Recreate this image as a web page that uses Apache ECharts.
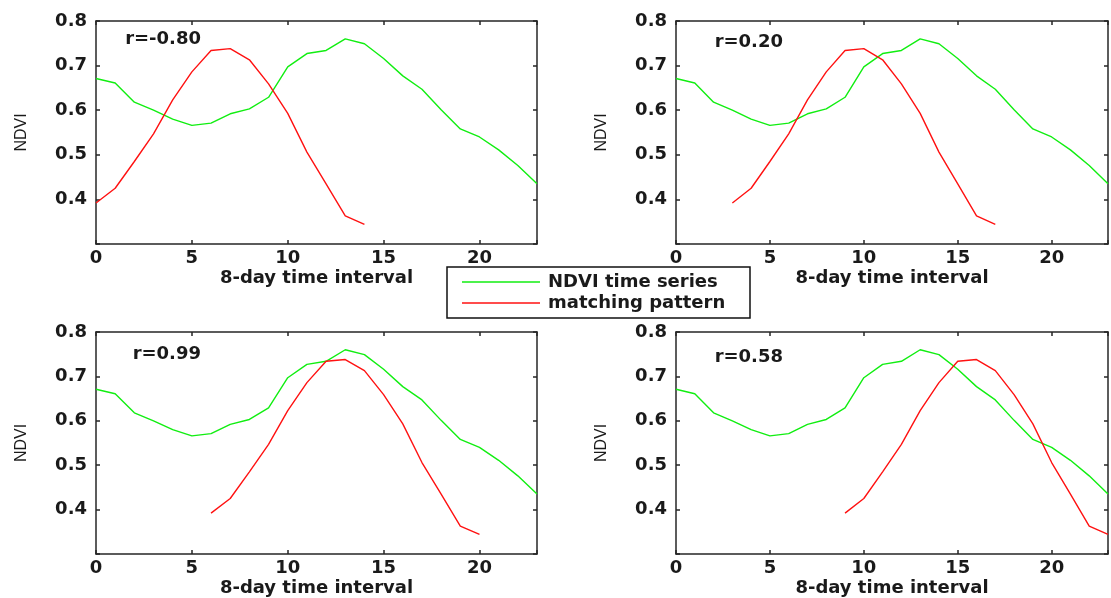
<!DOCTYPE html>
<html><head><meta charset="utf-8">
<script src="https://cdn.jsdelivr.net/npm/echarts@6/dist/echarts.min.js"></script>
<style>html,body{margin:0;padding:0;background:#fff}#c{width:1111px;height:598px}</style>
</head><body><div id="c"></div>
<script>
// NDVI time series (8-day intervals 0..23)
const ndvi = [0.671, 0.661, 0.618, 0.600, 0.580, 0.566, 0.571, 0.592, 0.603, 0.629, 0.697, 0.727,
              0.734, 0.760, 0.749, 0.716, 0.677, 0.647, 0.601, 0.558, 0.540, 0.511, 0.476, 0.435];
// matching pattern (15 steps)
const pattern = [0.392, 0.425, 0.485, 0.547, 0.623, 0.686, 0.734, 0.738, 0.713, 0.659, 0.593, 0.506, 0.435, 0.363, 0.344];
// shift of the pattern in each panel
const shifts = [0, 3, 6, 9];
const rLabels = ['r=-0.80', 'r=0.20', 'r=0.99', 'r=0.58'];
const seriesNames = ['NDVI time series', 'matching pattern'];
const xTickLabels = [0, 5, 10, 15, 20];
const yTickLabels = [0.4, 0.5, 0.6, 0.7, 0.8];

const grids = [
  {left: 96, top: 21, width: 441, height: 223},
  {left: 676, top: 21, width: 440, height: 223},
  {left: 96, top: 332, width: 441, height: 223},
  {left: 676, top: 332, width: 440, height: 223}
];
const rPos = [[201, 39], [783, 42], [201, 354], [783, 357]];

const txt = '#1a1a1a';
const lineC = '#262626';
const tickFont = {fontFamily: 'DejaVu Sans', fontWeight: 'bold', fontSize: 18, color: txt};
const GREEN = '#11ee11', RED = '#ff1111';

const xAxis = [], yAxis = [], series = [], graphic = [];
grids.forEach((g, i) => {
  const base = {
    type: 'value', gridIndex: i, min: 0, max: 23, interval: 5,
    axisLine: {show: true, onZero: false, lineStyle: {color: lineC, width: 1.5}},
    axisTick: {show: true, inside: true, length: 4, lineStyle: {color: lineC, width: 1.5}},
    splitLine: {show: false}
  };
  xAxis.push(Object.assign({}, base, {
    position: 'bottom',
    axisLabel: Object.assign({margin: 5, formatter: v => xTickLabels.includes(v) ? String(v) : ''}, tickFont),
    name: '8-day time interval', nameLocation: 'middle', nameGap: 25,
    nameTextStyle: Object.assign({}, tickFont)
  }));
  xAxis.push(Object.assign({}, base, {position: 'top', axisLabel: {show: false}}));
  const ybase = {
    type: 'value', gridIndex: i, min: 0.3, max: 0.8, interval: 0.1,
    axisLine: {show: true, onZero: false, lineStyle: {color: lineC, width: 1.5}},
    axisTick: {show: true, inside: true, length: 4, lineStyle: {color: lineC, width: 1.5}},
    splitLine: {show: false}
  };
  yAxis.push(Object.assign({}, ybase, {
    position: 'left',
    axisLabel: Object.assign({margin: 9, formatter: v => {
      const s = v.toFixed(1); return yTickLabels.map(t => t.toFixed(1)).includes(s) ? s : '';
    }}, tickFont),
    name: 'NDVI', nameLocation: 'middle', nameGap: 66,
    nameTextStyle: {fontFamily: 'Liberation Sans', fontSize: 16, color: txt}
  }));
  yAxis.push(Object.assign({}, ybase, {position: 'right', axisLabel: {show: false}}));

  series.push({
    name: seriesNames[0], type: 'line', xAxisIndex: 2 * i, yAxisIndex: 2 * i,
    data: ndvi.map((v, k) => [k, v]), symbol: 'none', color: GREEN,
    lineStyle: {color: GREEN, width: 1.4}, animation: false, z: 2
  });
  series.push({
    name: seriesNames[1], type: 'line', xAxisIndex: 2 * i, yAxisIndex: 2 * i,
    data: pattern.map((v, k) => [k + shifts[i], v]), symbol: 'none', color: RED,
    lineStyle: {color: RED, width: 1.4}, animation: false, z: 3
  });
  graphic.push({
    type: 'text', x: rPos[i][0], y: rPos[i][1], z: 10,
    style: {text: rLabels[i], align: 'right', verticalAlign: 'middle',
      font: 'bold 18px "DejaVu Sans"', fill: txt}
  });
});

const chart = echarts.init(document.getElementById('c'), null, {renderer: 'canvas'});
chart.setOption({
  animation: false,
  backgroundColor: '#fff',
  grid: grids.map(g => Object.assign({containLabel: false}, g)),
  xAxis, yAxis, series, graphic,
  legend: {
    data: seriesNames, orient: 'vertical', left: 447, top: 267,
    padding: [5, 12, 5, 15], itemGap: 1, itemWidth: 78, itemHeight: 1.5, icon: 'rect',
    backgroundColor: '#fff', borderColor: '#111', borderWidth: 1.5,
    textStyle: Object.assign({}, tickFont, {lineHeight: 20, width: 190, padding: [0, 0, 0, 3]}),
    z: 20
  }
});
</script></body></html>
